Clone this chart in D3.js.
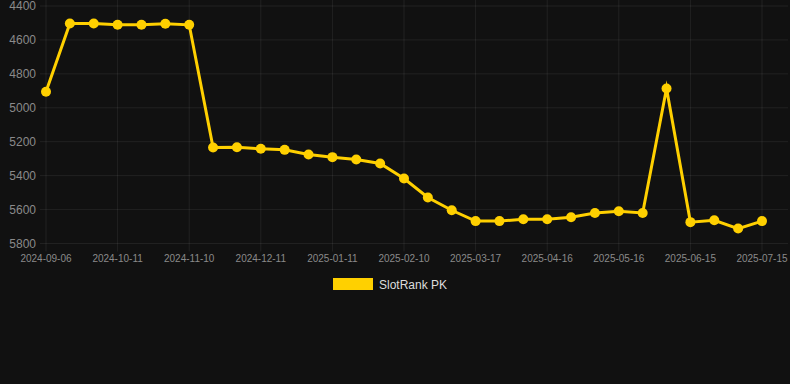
<!DOCTYPE html>
<html>
<head>
<meta charset="utf-8">
<script src="https://cdn.jsdelivr.net/npm/d3@7"></script>
<style>
  html, body { margin: 0; padding: 0; background: #111111; }
  svg { display: block; font-family: "Liberation Sans", Arial, sans-serif; }
</style>
</head>
<body>
<svg width="790" height="384"></svg>
<script>
// chart data
const dates = [
  '2024-09-06', '2024-09-18', '2024-09-30', '2024-10-11', '2024-10-21', '2024-10-31',
  '2024-11-10', '2024-11-20', '2024-12-01', '2024-12-11', '2024-12-21', '2025-01-01',
  '2025-01-11', '2025-01-21', '2025-01-31', '2025-02-10', '2025-02-22', '2025-03-05',
  '2025-03-17', '2025-03-27', '2025-04-06', '2025-04-16', '2025-04-26', '2025-05-06',
  '2025-05-16', '2025-05-26', '2025-06-05', '2025-06-15', '2025-06-25', '2025-07-05',
  '2025-07-15'
];
const ranks = [
  4905, 4503, 4503, 4511, 4510, 4505,
  4511, 5234, 5233, 5242, 5248, 5275,
  5291, 5305, 5328, 5417, 5529, 5604,
  5668, 5668, 5657, 5657, 5645, 5620,
  5610, 5620, 4886, 5674, 5663, 5712,
  5668
];
const yTicks = [4400, 4600, 4800, 5000, 5200, 5400, 5600, 5800];
const seriesName = 'SlotRank PK';

(function (d3) {
    'use strict';
    const svg = d3.select('svg');
    const lineColor = '#ffd000';
    const gridColor = 'rgba(255,255,255,0.07)';
    const left = 40, right = 788, top = 6, bottom = 243.5;

    const x = d3.scalePoint()
        .domain(dates)
        .range([46, 762]);
    const y = d3.scaleLinear()
        .domain([4400, 5800])
        .range([top, bottom]);

    const tickDates = dates.filter((d, i) => i % 3 === 0);

    // grid
    const grid = svg.append('g');
    grid.selectAll('line.h').data(yTicks)
      .enter().append('line')
        .attr('x1', left).attr('x2', right)
        .attr('y1', d => y(d)).attr('y2', d => y(d))
        .attr('stroke', gridColor);
    grid.selectAll('line.v').data(tickDates)
      .enter().append('line')
        .attr('x1', d => x(d)).attr('x2', d => x(d))
        .attr('y1', 0).attr('y2', bottom + 8)
        .attr('stroke', gridColor);

    // y labels
    svg.append('g').selectAll('text').data(yTicks)
      .enter().append('text')
        .attr('x', 36)
        .attr('y', d => y(d))
        .attr('dy', '0.35em')
        .attr('text-anchor', 'end')
        .attr('font-size', 12)
        .attr('fill', '#8a8a8a')
        .text(d => d);

    // x labels
    svg.append('g').selectAll('text').data(tickDates)
      .enter().append('text')
        .attr('x', d => x(d))
        .attr('y', 262)
        .attr('text-anchor', 'middle')
        .attr('font-size', 10)
        .attr('fill', '#8a8a8a')
        .text(d => d);

    const points = dates.map((d, i) => ({ date: d, value: ranks[i] }));

    const line = d3.line()
        .x(d => x(d.date))
        .y(d => y(d.value));

    svg.append('path')
        .datum(points)
        .attr('d', line)
        .attr('fill', 'none')
        .attr('stroke', lineColor)
        .attr('stroke-width', 3)
        .attr('stroke-linejoin', 'miter')
        .attr('stroke-miterlimit', 10);

    svg.append('g').selectAll('circle').data(points)
      .enter().append('circle')
        .attr('cx', d => x(d.date))
        .attr('cy', d => y(d.value))
        .attr('r', 5)
        .attr('fill', lineColor);

    // legend
    const legend = svg.append('g');
    legend.append('rect')
        .attr('x', 333).attr('y', 278)
        .attr('width', 40).attr('height', 12)
        .attr('fill', lineColor);
    legend.append('text')
        .attr('x', 379).attr('y', 288.5)
        .attr('font-size', 12)
        .attr('fill', '#dddddd')
        .text(seriesName);
}(d3));
</script>
</body>
</html>
